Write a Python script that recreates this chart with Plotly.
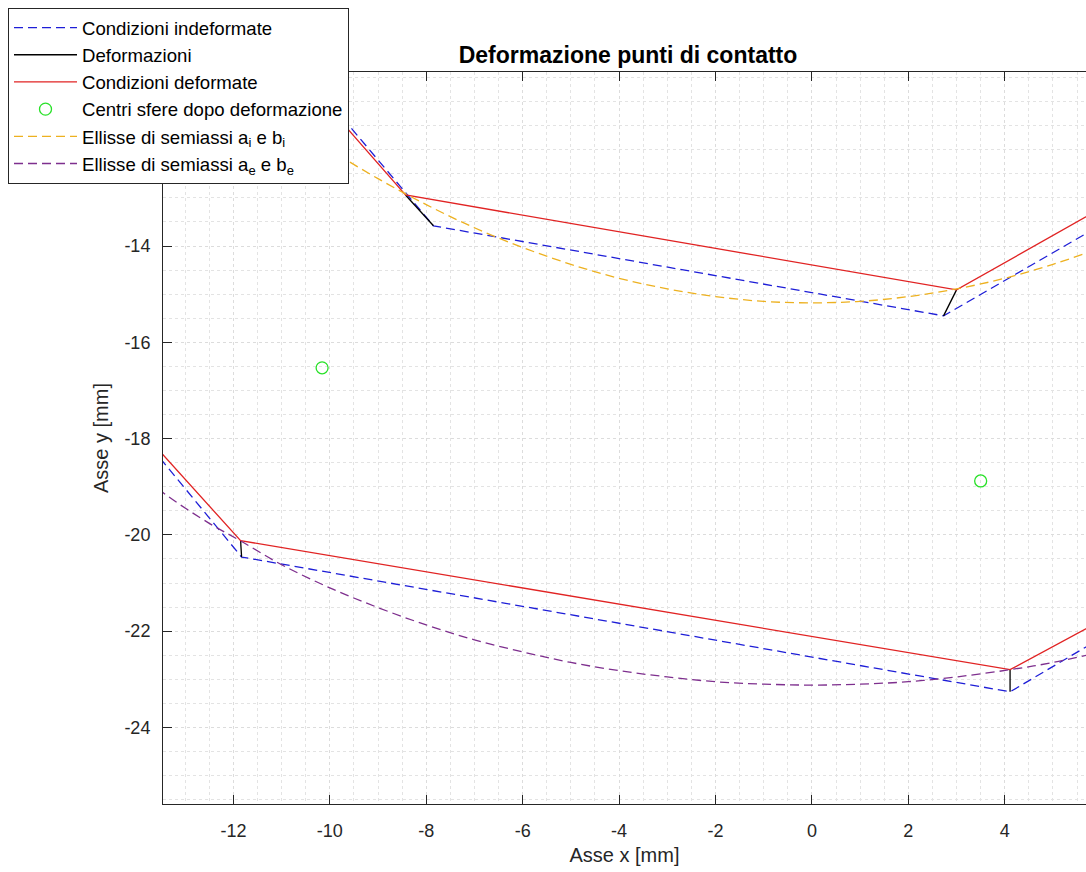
import plotly.graph_objects as go

# ---- data (mm) ----
blue_in_x = [-10.86, -7.85, 2.73, 7.0]
blue_in_y = [-10.0, -13.58, -15.45, -12.98]
blue_out_x = [-15.0, -11.83, 4.11, 7.0]
blue_out_y = [-16.61, -20.46, -23.26, -21.55]

red_in_x = [-11.0, -8.43, 3.00, 7.0]
red_in_y = [-10.0, -12.94, -14.91, -12.65]
red_out_x = [-15.0, -11.85, 4.11, 7.0]
red_out_y = [-16.63, -20.12, -22.80, -21.24]

def_x = [-7.85, -8.43, None, 2.73, 3.00, None, -11.83, -11.85, None, 4.11, 4.11]
def_y = [-13.58, -12.94, None, -15.45, -14.91, None, -20.46, -20.12, None, -23.26, -22.80]

centers_x = [-10.16, 3.50]
centers_y = [-16.53, -18.88]

ell_i_x = [-10.8, -10, -9, -8, -7, -6, -5, -4, -3, -2, -1, 0, 1, 2, 3, 4, 5, 6, 6.5]
ell_i_y = [-11.47, -12.00, -12.60, -13.14, -13.62, -14.03, -14.38, -14.67, -14.89, -15.05,
           -15.15, -15.18, -15.15, -15.05, -14.89, -14.67, -14.38, -14.03, -13.83]

ell_e_x = [-14, -13.45, -12.5, -11.86, -11, -10, -9, -8, -7, -6, -5, -4, -3, -2, -1, 0,
           1, 2, 3, 4.11, 5, 6]
ell_e_y = [-18.66, -19.13, -19.76, -20.12, -20.62, -21.10, -21.51, -21.87, -22.18, -22.43,
           -22.65, -22.82, -22.95, -23.05, -23.10, -23.12, -23.10, -23.05, -22.95, -22.80,
           -22.65, -22.43]

x_ticks = [-12, -10, -8, -6, -4, -2, 0, 2, 4]
y_ticks = [-24, -22, -20, -18, -16, -14]

BLUE = "rgb(30,30,215)"
RED = "rgb(225,35,35)"
GREEN = "rgb(40,225,40)"
YELLOW = "#EDB120"
PURPLE = "#7E2F8E"
AX = "#262626"
DASH = "9px,5px"
LW = 1.3

fig = go.Figure()
fig.add_trace(go.Scatter(x=blue_in_x, y=blue_in_y, mode="lines", name="Condizioni indeformate",
                         legendgroup="b", line=dict(color=BLUE, width=LW, dash=DASH)))
fig.add_trace(go.Scatter(x=blue_out_x, y=blue_out_y, mode="lines", showlegend=False,
                         legendgroup="b", line=dict(color=BLUE, width=LW, dash=DASH)))
fig.add_trace(go.Scatter(x=def_x, y=def_y, mode="lines", name="Deformazioni",
                         line=dict(color="black", width=LW)))
fig.add_trace(go.Scatter(x=red_in_x, y=red_in_y, mode="lines", name="Condizioni deformate",
                         legendgroup="r", line=dict(color=RED, width=LW)))
fig.add_trace(go.Scatter(x=red_out_x, y=red_out_y, mode="lines", showlegend=False,
                         legendgroup="r", line=dict(color=RED, width=LW)))
fig.add_trace(go.Scatter(x=centers_x, y=centers_y, mode="markers", name="Centri sfere dopo deformazione",
                         marker=dict(symbol="circle-open", size=12, color=GREEN, line=dict(width=1.3, color=GREEN))))
fig.add_trace(go.Scatter(x=ell_i_x, y=ell_i_y, mode="lines", line_shape="spline",
                         name="Ellisse di semiassi a<sub>i</sub> e b<sub>i</sub>",
                         line=dict(color=YELLOW, width=LW, dash=DASH)))
fig.add_trace(go.Scatter(x=ell_e_x, y=ell_e_y, mode="lines", line_shape="spline",
                         name="Ellisse di semiassi a<sub>e</sub> e b<sub>e</sub>",
                         line=dict(color=PURPLE, width=LW, dash=DASH)))

FONT = "Liberation Sans, Arial, sans-serif"
fig.update_layout(
    width=1086, height=872,
    margin=dict(l=163, r=0, t=72, b=68),
    paper_bgcolor="white", plot_bgcolor="white",
    font=dict(family=FONT, size=18, color=AX),
    title=dict(text="<b>Deformazione punti di contatto</b>", x=(628 - 163) / 923, xref="paper",
               y=1 - 55 / 872, yref="container", yanchor="middle", xanchor="center",
               font=dict(size=23, color="black", family=FONT)),
    showlegend=True,
    legend=dict(x=(8 - 163) / 923, y=(804 - 8) / 732, xanchor="left", yanchor="top",
                bgcolor="white", bordercolor=AX, borderwidth=1,
                font=dict(size=18.6, color="black", family=FONT),
                itemwidth=63, tracegroupgap=0),
)
fig.update_xaxes(
    range=[-13.46, 5.685], tickvals=x_ticks, ticktext=[str(v) for v in x_ticks],
    ticks="inside", ticklen=9, tickcolor=AX, showline=True, linecolor=AX, linewidth=1,
    mirror="ticks", zeroline=False, showgrid=True, gridcolor="#dcdcdc", griddash="dot",
    gridwidth=1, ticklabelstandoff=10,
    minor=dict(dtick=0.5, showgrid=True, gridcolor="#e3e3e3", griddash="dot", ticks=""),
    title=dict(text="Asse x [mm]", font=dict(size=20, color=AX), standoff=8),
    tickfont=dict(size=18, color=AX),
)
fig.update_yaxes(
    range=[-25.59, -10.385], tickvals=y_ticks, ticktext=[str(v) for v in y_ticks],
    ticks="inside", ticklen=9, tickcolor=AX, showline=True, linecolor=AX, linewidth=1,
    mirror=False, zeroline=False, showgrid=True, gridcolor="#dcdcdc", griddash="dot",
    gridwidth=1, ticklabelstandoff=8,
    minor=dict(dtick=0.5, showgrid=True, gridcolor="#e3e3e3", griddash="dot", ticks=""),
    title=dict(text="Asse y [mm]", font=dict(size=20, color=AX), standoff=10),
    tickfont=dict(size=18, color=AX),
)

fig.write_html("out.html")
